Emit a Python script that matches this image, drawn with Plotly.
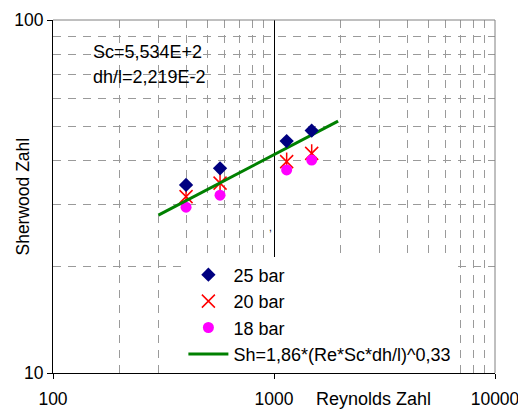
import plotly.graph_objects as go

# ---- data ----
re_25 = [400, 570, 1141, 1481]
sh_25 = [34.1, 38.0, 45.4, 48.6]
re_20 = [400, 570, 1141, 1481]
sh_20 = [31.6, 34.5, 39.7, 41.9]
re_18 = [400, 570, 1141, 1481]
sh_18 = [29.5, 31.9, 37.6, 40.1]
re_fit = [300, 1950]
sh_fit = [28.0, 51.7]

x_ticks = [100, 1000, 10000]
x_ticktext = ["100", "1000", "10000"]
x_minor = [200, 300, 400, 500, 600, 700, 800, 900,
           2000, 3000, 4000, 5000, 6000, 7000, 8000, 9000]
y_ticks = [10, 100]
y_ticktext = ["10", "100"]
y_minor = [20, 30, 40, 50, 60, 70, 80, 90]

FONT = "Liberation Sans, Arial, sans-serif"

fig = go.Figure()

fig.add_trace(go.Scatter(
    x=re_20, y=sh_20, mode="markers", name="20 bar", legendrank=2,
    marker=dict(symbol="x-thin-open", size=13, color="#FF0000",
                line=dict(color="#FF0000", width=1.5)),
))
fig.add_trace(go.Scatter(
    x=re_20, y=sh_20, mode="markers", name="20 bar", showlegend=False,
    marker=dict(symbol="line-ns-open", size=13, color="#FF0000",
                line=dict(color="#FF0000", width=1.5)),
))
fig.add_trace(go.Scatter(
    x=re_18, y=sh_18, mode="markers", name="18 bar", legendrank=3,
    marker=dict(symbol="circle", size=11, color="#FF00FF",
                line=dict(width=0)),
))
fig.add_trace(go.Scatter(
    x=re_fit, y=sh_fit, mode="lines", name="Sh=1,86*(Re*Sc*dh/l)^0,33",
    legendrank=4, line=dict(color="#008000", width=3),
))
fig.add_trace(go.Scatter(
    x=re_25, y=sh_25, mode="markers", name="25 bar", legendrank=1,
    marker=dict(symbol="diamond", size=11, color="#000080",
                line=dict(width=0)),
))

fig.update_layout(
    width=518, height=410,
    margin=dict(l=53, r=23, t=20, b=37, autoexpand=False),
    paper_bgcolor="white", plot_bgcolor="white",
    font=dict(family=FONT, size=17.5, color="black"),
    legend=dict(
        x=0.295, y=0.33, xanchor="left", yanchor="top",
        bgcolor="white", borderwidth=0, itemwidth=40,
        font=dict(family=FONT, size=18, color="black"),
    ),
    xaxis=dict(
        type="log", range=[2, 4], automargin=False,
        tickmode="array", tickvals=x_ticks, ticktext=x_ticktext,
        ticklabeloverflow="allow", ticklabelstandoff=5,
        ticks="outside", ticklen=5, tickcolor="black", tickwidth=1,
        showline=True, linecolor="black", linewidth=1,
        showgrid=True, gridcolor="black", gridwidth=1,
        zeroline=False,
        minor=dict(tickmode="array", tickvals=x_minor, ticks="",
                   showgrid=True, gridcolor="#9a9a9a", gridwidth=1,
                   griddash="8px,7px"),
    ),
    yaxis=dict(
        type="log", range=[1, 2], automargin=False,
        tickmode="array", tickvals=y_ticks, ticktext=y_ticktext,
        ticklabeloverflow="allow",
        ticks="outside", ticklen=5, tickcolor="black", tickwidth=1,
        showline=True, linecolor="black", linewidth=1,
        showgrid=False, zeroline=False,
        minor=dict(tickmode="array", tickvals=y_minor, ticks="",
                   showgrid=True, gridcolor="#9a9a9a", gridwidth=1,
                   griddash="8px,7px"),
    ),
    shapes=[
        dict(type="line", xref="paper", yref="paper", x0=0, x1=1, y0=1, y1=1,
             line=dict(color="#808080", width=1), layer="above"),
        dict(type="line", xref="paper", yref="paper", x0=1, x1=1, y0=0, y1=1,
             line=dict(color="#808080", width=1), layer="above"),
    ],
    annotations=[
        dict(text="Sherwood Zahl", textangle=-90, xref="paper", yref="paper",
             x=-0.0701, y=0.5, xanchor="center", yanchor="middle",
             showarrow=False, font=dict(family=FONT, size=17.5)),
        dict(text="Reynolds Zahl", xref="paper", yref="paper",
             x=0.726, y=-0.0725, xanchor="center", yanchor="middle",
             showarrow=False, font=dict(family=FONT, size=18)),
        dict(text="Sc=5,534E+2", xref="paper", yref="paper",
             x=0.086, y=0.910, xanchor="left", yanchor="middle",
             showarrow=False, font=dict(family=FONT, size=18)),
        dict(text="dh/l=2,219E-2", xref="paper", yref="paper",
             x=0.086, y=0.839, xanchor="left", yanchor="middle",
             showarrow=False, font=dict(family=FONT, size=18)),
        dict(text=",", xref="paper", yref="paper",
             x=0.491, y=0.411, xanchor="center", yanchor="middle",
             showarrow=False, font=dict(family=FONT, size=10)),
    ],
)

fig.write_html("out.html")
